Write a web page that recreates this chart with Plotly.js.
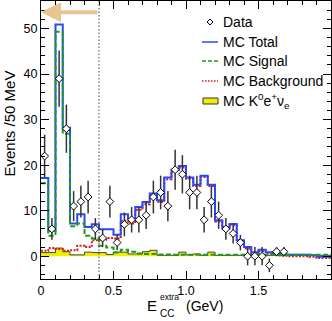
<!DOCTYPE html>
<html><head><meta charset="utf-8">
<script src="https://cdn.plot.ly/plotly-3.0.1.min.js"></script>
<style>html,body{margin:0;padding:0;background:#fff}#chart{width:332px;height:321px}</style>
</head><body><div id="chart"></div><script>
// Bin edges (GeV), 50 MeV bins
const binEdges = [0,0.05,0.1,0.15,0.2,0.25,0.3,0.35,0.4,0.45,0.5,0.55,0.6,0.65,0.7,0.75,0.8,0.85,0.9,0.95,1.0,1.05,1.1,1.15,1.2,1.25,1.3,1.35,1.4,1.45,1.5,1.55,1.6,1.65,1.7,1.75,1.8,1.85,1.9,1.95,2.0];
const dataCounts = [22,6,39,28,11,12,13,6,4,12,3,7,8,8,9,13,14,11,19,18,14,14,8,12,9,6,5,3,0,0,0,-2,1,1,null,null,null,null,null,null];
const dataErr = [4.7,2.4,6.2,5.3,3.3,3.5,3.6,2.4,2.0,3.5,1.7,2.6,2.8,2.8,3.0,3.6,3.7,3.3,4.4,4.2,3.7,3.7,2.8,3.5,3.0,2.4,2.2,1.7,2.0,2.0,2.0,1.5,1.0,1.0,null,null,null,null,null,null];
const mcTotal = [17.2,5.6,50.9,28.2,7.2,9.2,6.4,7.0,5.9,5.9,4.7,9.2,8.2,10.8,11.9,13.8,12.3,17.3,19.0,19.8,17.3,15.7,17.7,15.7,7.9,6.4,7.1,3.5,2.0,0.9,1.4,0.9,0.7,0.4,0.3,0.3,0.3,0.2,-0.1,-0.1];
const mcSignal = [16.0,4.5,49.3,26.9,6.6,7.2,4.5,3.9,2.3,1.9,0.8,1.4,1.0,0.6,0.5,0.5,0.4,0.4,0.3,0.3,0.3,0.3,0.3,0.3,0.3,0.3,0.3,0.3,0.3,0.3,0.3,0.3,0.3,0.3,0.3,0.3,0.3,0.3,0.3,0.3];
const mcBackground = [1.2,1.8,1.6,1.2,1.3,2.3,2.0,3.5,3.6,4.0,3.9,7.8,7.2,10.2,11.4,13.3,11.9,16.9,18.7,19.5,17.0,15.4,17.4,15.4,7.6,6.1,6.8,3.2,1.7,0.6,1.1,0.6,0.4,0.1,0.0,0.0,0.0,-0.1,-0.4,-0.4];
const mcK0 = [0.8,0.8,1.8,1.0,0.3,0.3,0.9,0.8,0.8,0.4,0.9,0.9,0.5,0.5,1.0,1.3,0.2,0.2,0.2,0.9,0.3,0.5,0.2,0.9,0.2,0.2,0.2,0.2,0.2,0.2,0.2,0.2,0.2,0.2,0.2,0.2,0.2,0.2,0.2,0.2];
const xTickVals = [0,0.5,1,1.5];
const xTickText = ['0','0.5','1.0','1.5'];
const cutValue = 0.4;
const legendLabels = ['Data','MC Total','MC Signal','MC Background','MC K<sup>0</sup>e<sup>+</sup>ν<sub>e</sub>'];

const centers = dataCounts.map((_, i) => (binEdges[i] + binEdges[i+1]) / 2);
const stepY = v => v.concat([v[v.length-1]]);

const W = 332, H = 321, mL = 41, mR = 1, mT = 1, mB = 42;
const pw = W - mL - mR, ph = H - mT - mB;
const px = x => (x - mL) / pw;
const py = y => (H - mB - y) / ph;

const COL_BLUE = '#2a48ff', COL_GREEN = '#1e9a1e', COL_RED = '#d41a1a', COL_YEL = '#eef000', COL_ARROW = '#e8c48e';
const FONT = 'Liberation Sans, Arial, Helvetica, sans-serif';

const traces = [
  {x: binEdges, y: stepY(mcK0), type: 'scatter', mode: 'lines', line: {shape: 'hv', color: '#444', width: 1}, fill: 'tozeroy', fillcolor: COL_YEL, hoverinfo: 'skip'},
  {x: binEdges, y: stepY(mcBackground), type: 'scatter', mode: 'lines', line: {shape: 'hv', color: COL_RED, width: 2, dash: '2px,1.5px'}},
  {x: binEdges, y: stepY(mcTotal), type: 'scatter', mode: 'lines', line: {shape: 'hv', color: COL_BLUE, width: 2}},
  {x: binEdges, y: stepY(mcSignal), type: 'scatter', mode: 'lines', line: {shape: 'hv', color: COL_GREEN, width: 2, dash: '5px,2.5px'}},
  {x: centers, y: dataCounts, type: 'scatter', mode: 'markers',
   marker: {symbol: 'diamond', size: 6, color: 'white', line: {color: 'black', width: 1}},
   error_y: {type: 'data', array: dataErr, visible: true, color: '#333', thickness: 1.5, width: 0}}
];

const legY = [22, 42, 61, 81, 101];
const shapes = [
  {type: 'line', xref: 'x', yref: 'paper', x0: cutValue, x1: cutValue, y0: 0, y1: 1, line: {color: '#444', width: 1, dash: '1.5px,2px'}},
  // legend symbols
  {type: 'path', xref: 'paper', yref: 'paper', xsizemode: 'pixel', ysizemode: 'pixel', xanchor: px(210), yanchor: py(legY[0]), path: 'M -3 0 L 0 3 L 3 0 L 0 -3 Z', line: {color: 'black', width: 1}, fillcolor: 'white'},
  {type: 'line', xref: 'paper', yref: 'paper', x0: px(202), x1: px(218), y0: py(legY[1]), y1: py(legY[1]), line: {color: COL_BLUE, width: 1.5}},
  {type: 'line', xref: 'paper', yref: 'paper', x0: px(202), x1: px(218), y0: py(legY[2]), y1: py(legY[2]), line: {color: COL_GREEN, width: 1.5, dash: '4px,2px'}},
  {type: 'line', xref: 'paper', yref: 'paper', x0: px(202), x1: px(218), y0: py(legY[3]), y1: py(legY[3]), line: {color: COL_RED, width: 1.5, dash: '1.5px,1.5px'}},
  {type: 'rect', xref: 'paper', yref: 'paper', x0: px(203), x1: px(218), y0: py(legY[4] + 3), y1: py(legY[4] - 3), line: {color: '#333', width: 1}, fillcolor: COL_YEL}
];

const annotations = [
  {xref: 'x', yref: 'y', x: 0, y: 53.6, ax: cutValue, ay: 53.6, axref: 'x', ayref: 'y', showarrow: true, arrowhead: 2, arrowsize: 1, arrowwidth: 4, arrowcolor: COL_ARROW, text: ''},
  {xref: 'paper', yref: 'paper', x: px(8.5), y: py(124), text: 'Events /50 MeV', textangle: -90, showarrow: false, xanchor: 'center', yanchor: 'middle', font: {size: 15, color: 'black', family: FONT}},
  {xref: 'paper', yref: 'paper', x: px(159), y: py(305), text: 'E', showarrow: false, xanchor: 'right', yanchor: 'middle', font: {size: 15, color: 'black', family: FONT}},
  {xref: 'paper', yref: 'paper', x: px(158), y: py(297), text: 'extra', showarrow: false, xanchor: 'left', yanchor: 'middle', font: {size: 8.5, color: 'black', family: FONT}},
  {xref: 'paper', yref: 'paper', x: px(158), y: py(313), text: 'CC', showarrow: false, xanchor: 'left', yanchor: 'middle', font: {size: 10, color: 'black', family: FONT}},
  {xref: 'paper', yref: 'paper', x: px(184), y: py(306), text: '(GeV)', showarrow: false, xanchor: 'left', yanchor: 'middle', font: {size: 14, color: 'black', family: FONT}}
];
legendLabels.forEach((t, i) => annotations.push({xref: 'paper', yref: 'paper', x: px(221), y: py(legY[i]), text: t, showarrow: false, xanchor: 'left', yanchor: 'middle', font: {size: 14, color: 'black', family: FONT}}));

const axisCommon = {showline: true, linecolor: 'black', linewidth: 1, mirror: 'allticks', ticks: 'inside', ticklen: 8, tickcolor: 'black', tickwidth: 1, showgrid: false, zeroline: false, tickfont: {size: 12.5, color: 'black', family: FONT}};

const layout = {
  width: W, height: H, margin: {l: mL, r: mR, t: mT, b: mB},
  paper_bgcolor: 'white', plot_bgcolor: 'white', showlegend: false,
  font: {family: FONT, color: 'black'},
  xaxis: Object.assign({}, axisCommon, {range: [0, 2], tickvals: xTickVals, ticktext: xTickText, minor: {dtick: 0.1, ticklen: 4, ticks: 'inside', tickcolor: 'black'}}),
  yaxis: Object.assign({}, axisCommon, {range: [-5, 56.05], dtick: 10, tick0: 0, minor: {dtick: 2, ticklen: 4, ticks: 'inside', tickcolor: 'black'}}),
  shapes: shapes, annotations: annotations
};

Plotly.newPlot('chart', traces, layout, {staticPlot: true, displayModeBar: false});
</script></body></html>
